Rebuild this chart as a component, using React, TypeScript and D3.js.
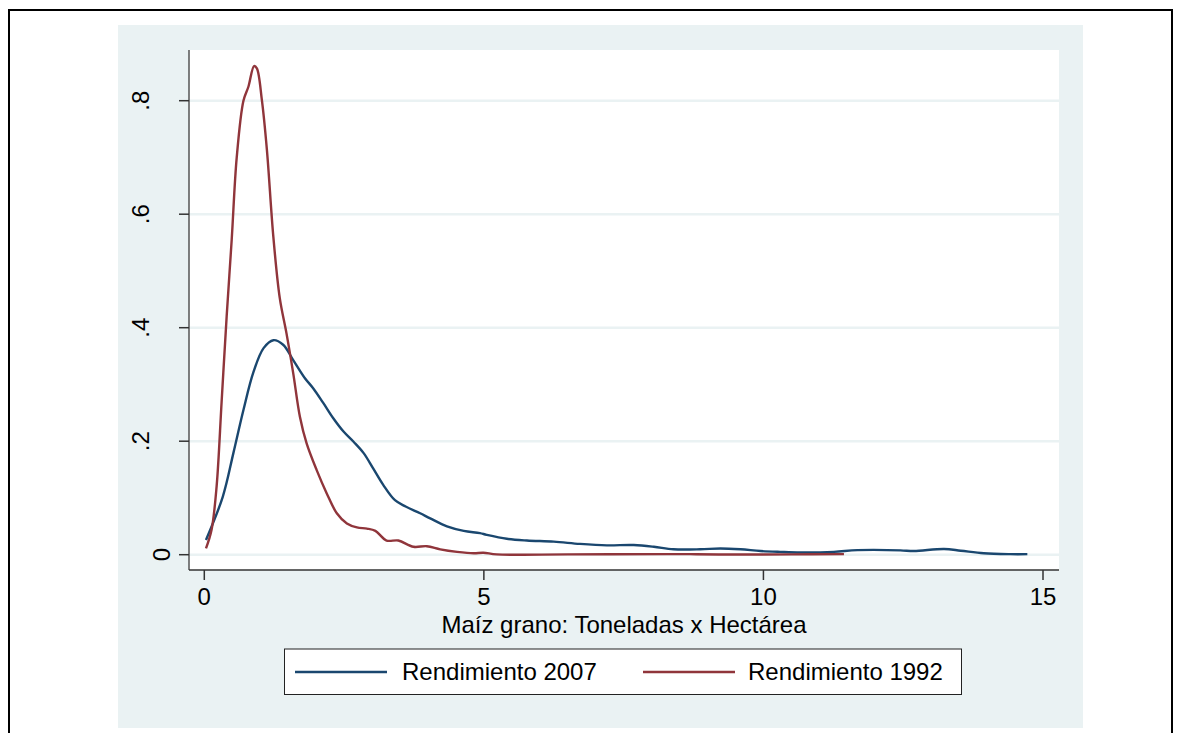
import React from "react";
import * as d3 from "d3";

// kernel density of maize yield (t/ha)
const x2007 = [0.03, 0.33, 0.52, 0.7, 0.88, 1.06, 1.235, 1.41, 1.59, 1.8, 1.95, 2.13, 2.31, 2.49, 2.67, 2.85, 3.02, 3.2, 3.41, 3.6, 3.86, 4.04, 4.34, 4.64, 4.93, 5.05, 5.41, 5.77, 6.25, 6.72, 7.2, 7.68, 8.04, 8.39, 8.87, 9.23, 9.59, 9.95, 10.3, 10.66, 11.26, 11.68, 12.45, 12.69, 13.23, 13.53, 13.94, 14.42, 14.72];
const y2007 = [0.026, 0.102, 0.179, 0.255, 0.322, 0.364, 0.378, 0.37, 0.343, 0.311, 0.293, 0.267, 0.24, 0.217, 0.199, 0.179, 0.152, 0.123, 0.096, 0.085, 0.073, 0.064, 0.05, 0.042, 0.038, 0.035, 0.028, 0.025, 0.023, 0.019, 0.0165, 0.017, 0.014, 0.0095, 0.0095, 0.011, 0.0095, 0.0065, 0.005, 0.004, 0.005, 0.008, 0.0077, 0.0065, 0.01, 0.007, 0.0025, 0.001, 0.001];

const x1992 = [0.03, 0.13, 0.22, 0.31, 0.4, 0.49, 0.58, 0.7, 0.79, 0.89, 0.94, 1.03, 1.12, 1.235, 1.35, 1.47, 1.59, 1.71, 1.83, 2.01, 2.19, 2.37, 2.55, 2.73, 2.91, 3.06, 3.26, 3.47, 3.74, 3.98, 4.22, 4.52, 4.82, 4.99, 5.23, 6.5, 8.28, 8.69, 9.2, 10.5, 11.44];
const y1992 = [0.011, 0.044, 0.12, 0.27, 0.42, 0.555, 0.7, 0.8, 0.825, 0.861, 0.857, 0.801, 0.713, 0.56, 0.452, 0.39, 0.32, 0.243, 0.196, 0.149, 0.108, 0.073, 0.055, 0.048, 0.046, 0.042, 0.025, 0.025, 0.014, 0.015, 0.0095, 0.005, 0.0025, 0.0035, 0.0005, 0.0005, 0.001, 0.001, 0.0003, 0.0005, 0.001];

const seriesNames = ["Rendimiento 2007", "Rendimiento 1992"];
const seriesColors = ["#1a476f", "#90353b"];
const xTicks = [0, 5, 10, 15];
const yTicks = [0, 0.2, 0.4, 0.6, 0.8];
const yTickLabels = ["0", ".2", ".4", ".6", ".8"];
const xTitle = "Maíz grano: Toneladas x Hectárea";

const W = 1181;
const H = 733;
const font = "'Liberation Sans', Arial, sans-serif";

export default function App() {
  const plot = { left: 189, right: 1059, top: 50, bottom: 570 };
  const x = d3.scaleLinear().domain([0, 15]).range([204.3, 1043]);
  const y = d3.scaleLinear().domain([0, 0.8]).range([554.7, 100.7]);

  const line = d3
    .line<[number, number]>()
    .x((d) => x(d[0]))
    .y((d) => y(d[1]))
    .curve(d3.curveCatmullRom.alpha(0.5));

  const series = [
    x2007.map((v, i) => [v, y2007[i]] as [number, number]),
    x1992.map((v, i) => [v, y1992[i]] as [number, number]),
  ];

  const legendY = 672;
  const legendItems = [
    { x0: 295, x1: 387, tx: 402 },
    { x0: 643, x1: 735, tx: 748 },
  ];

  return (
    <svg
      width={W}
      height={H}
      style={{ position: "absolute", left: 0, top: 0, display: "block" }}
      fontFamily={font}
    >
      <rect x={0} y={0} width={W} height={H} fill="#fff" />
      <rect x={9} y={10} width={1163} height={760} fill="none" stroke="#000" strokeWidth={2} />
      <rect x={118} y={25} width={965} height={703} fill="#eaf2f3" />
      <rect x={plot.left} y={plot.top} width={plot.right - plot.left} height={plot.bottom - plot.top} fill="#fff" />

      {yTicks.map((t) => (
        <line key={"g" + t} x1={plot.left} x2={plot.right} y1={y(t)} y2={y(t)} stroke="#eaf2f3" strokeWidth={2.5} />
      ))}

      {series.map((s, i) => (
        <path key={i} d={line(s) || ""} fill="none" stroke={seriesColors[i]} strokeWidth={2.4} strokeLinejoin="round" />
      ))}

      <line x1={plot.left} x2={plot.left} y1={plot.top} y2={plot.bottom} stroke="#555" strokeWidth={1.5} />
      <line x1={plot.left} x2={plot.right} y1={plot.bottom} y2={plot.bottom} stroke="#333" strokeWidth={1.5} />

      {yTicks.map((t, i) => {
        const lx = yTickLabels[i] === "0" ? 170 : 149;
        return (
          <g key={"y" + t}>
            <line x1={plot.left - 10} x2={plot.left} y1={y(t)} y2={y(t)} stroke="#333" strokeWidth={1.5} />
            <text
              transform={`translate(${lx},${y(t)}) rotate(-90)`}
              textAnchor="middle"
              fontSize={24}
              fill="#000"
            >
              {yTickLabels[i]}
            </text>
          </g>
        );
      })}

      {xTicks.map((t) => (
        <g key={"x" + t}>
          <line x1={x(t)} x2={x(t)} y1={plot.bottom} y2={plot.bottom + 10} stroke="#333" strokeWidth={1.5} />
          <text x={x(t)} y={605} textAnchor="middle" fontSize={24} fill="#000">
            {t}
          </text>
        </g>
      ))}

      <text x={624} y={633} textAnchor="middle" fontSize={24} fill="#000">
        {xTitle}
      </text>

      <rect x={284.5} y={649} width={677} height={45.5} fill="#fff" stroke="#222" strokeWidth={1} />
      {legendItems.map((l, i) => (
        <g key={"l" + i}>
          <line x1={l.x0} x2={l.x1} y1={legendY} y2={legendY} stroke={seriesColors[i]} strokeWidth={2.4} />
          <text x={l.tx} y={680} fontSize={24} fill="#000">
            {seriesNames[i]}
          </text>
        </g>
      ))}
    </svg>
  );
}
